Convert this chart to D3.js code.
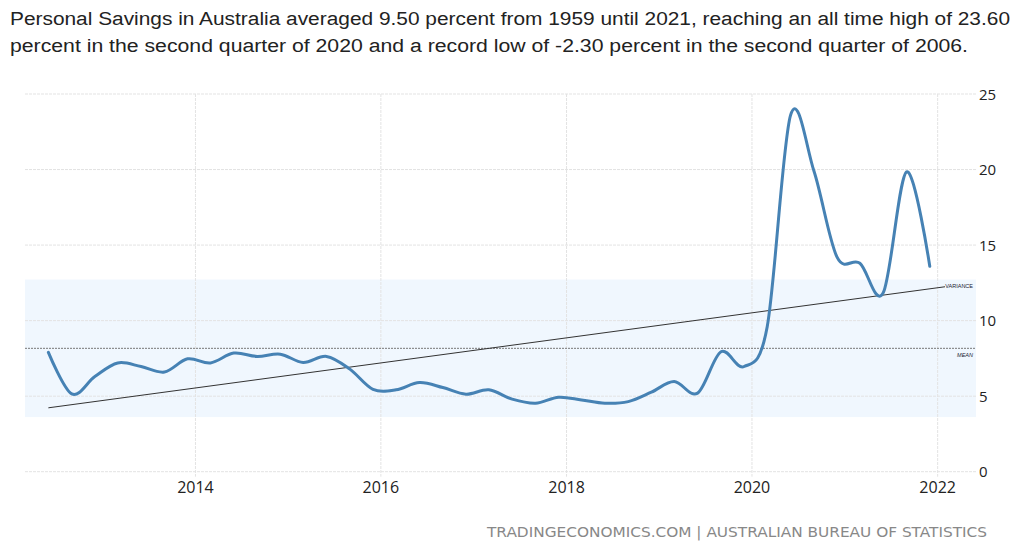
<!DOCTYPE html>
<html>
<head>
<meta charset="utf-8">
<script src="https://cdn.jsdelivr.net/npm/d3@7"></script>
<style>
  html, body { margin: 0; padding: 0; background: #fff; }
  svg { display: block; }
</style>
</head>
<body>
<svg id="chart" width="1024" height="557"></svg>
<script>
// ---- data ----
const quarterDates = [
  "2012-06-01","2012-09-01","2012-12-01",
  "2013-03-01","2013-06-01","2013-09-01","2013-12-01",
  "2014-03-01","2014-06-01","2014-09-01","2014-12-01",
  "2015-03-01","2015-06-01","2015-09-01","2015-12-01",
  "2016-03-01","2016-06-01","2016-09-01","2016-12-01",
  "2017-03-01","2017-06-01","2017-09-01","2017-12-01",
  "2018-03-01","2018-06-01","2018-09-01","2018-12-01",
  "2019-03-01","2019-06-01","2019-09-01","2019-12-01",
  "2020-03-01","2020-06-01","2020-09-01","2020-12-01",
  "2021-03-01","2021-06-01","2021-09-01","2021-12-01"
];
const savingsValues = [
  7.9, 5.15, 6.3,
  7.2, 6.96, 6.6, 7.47,
  7.2, 7.85, 7.63, 7.78,
  7.23, 7.63, 6.79, 5.45,
  5.42, 5.9, 5.57, 5.13,
  5.42, 4.8, 4.53, 4.93,
  4.75, 4.53, 4.64, 5.26,
  5.97, 5.2, 7.94, 6.96,
  9.6, 23.6, 19.9, 14.2,
  13.8, 11.85, 19.85, 13.6
];
const xDomainDates = ["2012-03-01", "2022-06-01"];
const xTickDates = ["2014-01-01","2016-01-01","2018-01-01","2020-01-01","2022-01-01"];
const yTicks = [0, 5, 10, 15, 20, 25];
const trendEndDate = "2022-01-30";
const titleLines = [
  "Personal Savings in Australia averaged 9.50 percent from 1959 until 2021, reaching an all time high of 23.60",
  "percent in the second quarter of 2020 and a record low of -2.30 percent in the second quarter of 2006."
];
const sourceText = "TRADINGECONOMICS.COM | AUSTRALIAN BUREAU OF STATISTICS";

// ---- setup ----
const parse = d3.utcParse("%Y-%m-%d");
const data = quarterDates.map((d, i) => ({ date: parse(d), value: savingsValues[i], i }));

const svg = d3.select("#chart");
const plotLeft = 25, plotRight = 976, plotTop = 94, plotBottom = 471.7;

const x = d3.scaleUtc().domain(xDomainDates.map(parse)).range([plotLeft, plotRight]);
const y = d3.scaleLinear().domain([0, 25]).range([plotBottom, plotTop]);

// statistics
const mean = d3.mean(savingsValues);
const sd = d3.deviation(savingsValues);
const n = data.length;
const mi = (n - 1) / 2;
let sxy = 0, sxx = 0;
data.forEach(d => { sxy += (d.i - mi) * (d.value - mean); sxx += (d.i - mi) * (d.i - mi); });
const slope = sxy / sxx;
const intercept = mean - slope * mi;
const t0 = data[0].date.getTime(), t1 = data[n - 1].date.getTime();
const idxAt = t => (t - t0) / (t1 - t0) * (n - 1);
const tEnd = parse(trendEndDate).getTime();

// ---- band ----
svg.append("rect")
  .attr("x", plotLeft).attr("width", plotRight - plotLeft)
  .attr("y", y(mean + sd)).attr("height", y(mean - sd) - y(mean + sd))
  .attr("fill", "#f0f7fe");

// ---- gridlines ----
svg.append("g").selectAll("line").data(yTicks).join("line")
  .attr("x1", plotLeft).attr("x2", plotRight)
  .attr("y1", d => y(d)).attr("y2", d => y(d))
  .attr("stroke", "#e3e3e3").attr("stroke-width", 1)
  .attr("stroke-dasharray", "3,1");

svg.append("g").selectAll("line").data(xTickDates.map(parse)).join("line")
  .attr("x1", d => x(d)).attr("x2", d => x(d))
  .attr("y1", y(25)).attr("y2", plotBottom + 5)
  .attr("stroke", "#e3e3e3").attr("stroke-width", 1)
  .attr("stroke-dasharray", "3,1");

// ---- axis labels ----
svg.append("g").selectAll("text").data(yTicks).join("text")
  .attr("x", 979).attr("y", d => y(d) + 5.5)
  .attr("font-family", "'Open Sans', sans-serif").attr("font-size", 15)
  .attr("fill", "#222")
  .text(d => d);

svg.append("g").selectAll("text").data(xTickDates.map(parse)).join("text")
  .attr("x", d => x(d)).attr("y", 493)
  .attr("text-anchor", "middle")
  .attr("font-family", "'Open Sans', sans-serif").attr("font-size", 16)
  .attr("fill", "#222")
  .text(d => d3.utcFormat("%Y")(d));

// ---- mean line ----
svg.append("line")
  .attr("x1", plotLeft).attr("x2", plotRight)
  .attr("y1", y(mean)).attr("y2", y(mean))
  .attr("stroke", "#777").attr("stroke-width", 1)
  .attr("stroke-dasharray", "2,1");

// ---- trend line ----
svg.append("line")
  .attr("x1", x(data[0].date)).attr("y1", y(intercept))
  .attr("x2", x(new Date(tEnd))).attr("y2", y(intercept + slope * idxAt(tEnd)))
  .attr("stroke", "#333").attr("stroke-width", 1);

// ---- series ----
const line = d3.line()
  .x(d => x(d.date)).y(d => y(d.value))
  .curve(d3.curveCardinal.tension(0));
svg.append("path").datum(data)
  .attr("d", line)
  .attr("fill", "none")
  .attr("stroke", "#4682b4")
  .attr("stroke-width", 3)
  .attr("stroke-linejoin", "round")
  .attr("stroke-linecap", "round");

// ---- small labels ----
svg.append("text")
  .attr("x", 973).attr("y", y(intercept + slope * idxAt(tEnd)) + 1.5)
  .attr("text-anchor", "end")
  .attr("font-family", "'Liberation Sans', Arial, sans-serif").attr("font-size", 5.5)
  .attr("fill", "#223")
  .text("VARIANCE");
svg.append("text")
  .attr("x", 973).attr("y", y(mean) + 8.5)
  .attr("text-anchor", "end")
  .attr("font-family", "'Liberation Sans', Arial, sans-serif").attr("font-size", 5.5)
  .attr("font-style", "italic")
  .attr("fill", "#223")
  .text("MEAN");

// ---- title ----
const titleWidths = [1000, 958];
svg.append("g").selectAll("text").data(titleLines).join("text")
  .attr("x", 10).attr("y", (d, i) => 25 + i * 27)
  .attr("font-family", "'Liberation Sans', Arial, sans-serif").attr("font-size", 18)
  .attr("fill", "#222")
  .attr("textLength", (d, i) => titleWidths[i])
  .attr("lengthAdjust", "spacingAndGlyphs")
  .text(d => d);

// ---- source ----
svg.append("text")
  .attr("x", 987).attr("y", 536.5)
  .attr("text-anchor", "end")
  .attr("font-family", "'DejaVu Sans', sans-serif").attr("font-size", 14)
  .attr("fill", "#888")
  .attr("textLength", 500)
  .attr("lengthAdjust", "spacingAndGlyphs")
  .text(sourceText);
</script>
</body>
</html>
